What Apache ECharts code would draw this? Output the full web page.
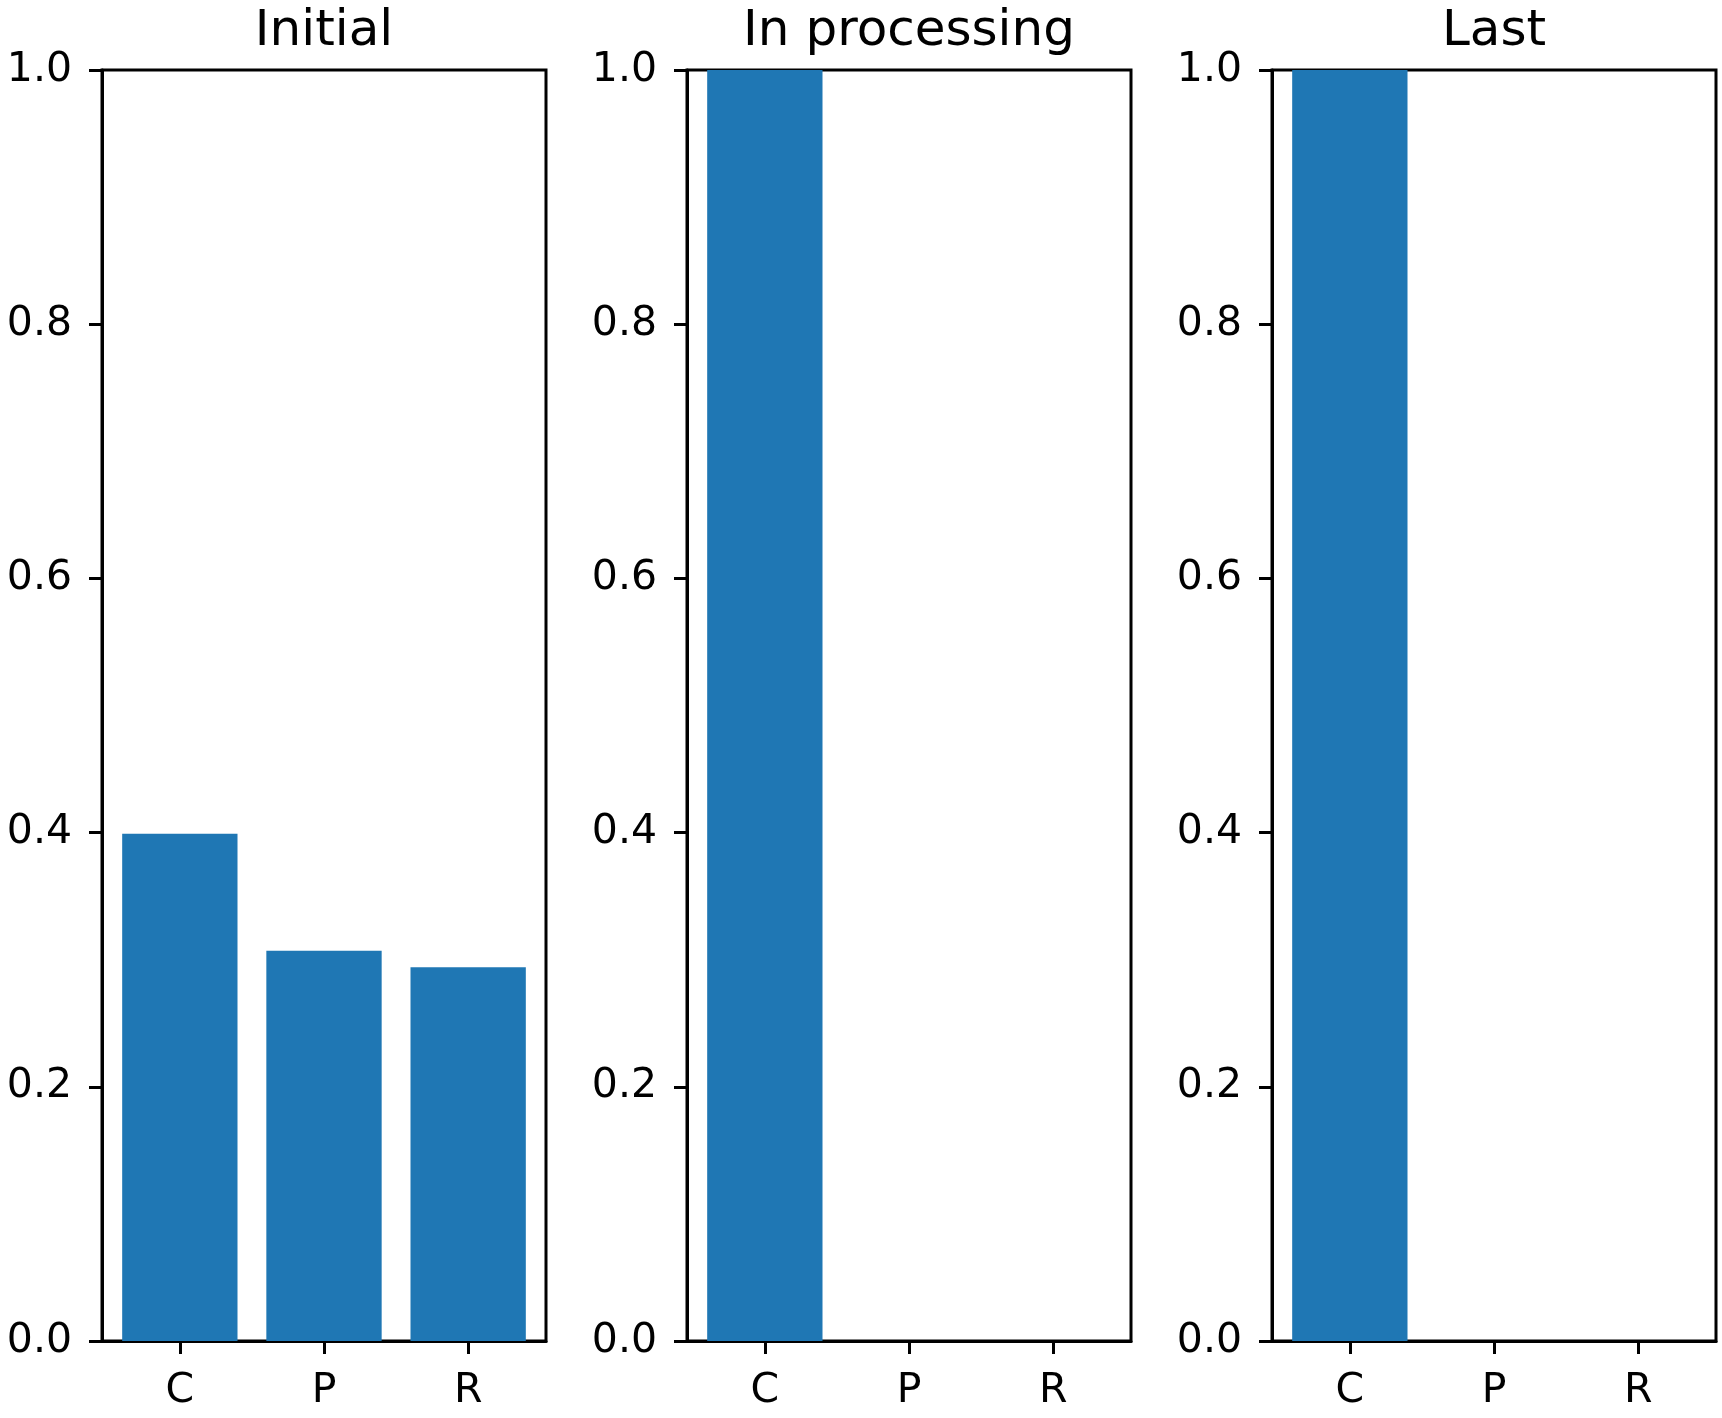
<!DOCTYPE html>
<html>
<head>
<meta charset="utf-8">
<script src="https://cdn.jsdelivr.net/npm/echarts@6/dist/echarts.min.js"></script>
<style>
html,body{margin:0;padding:0;background:#fff;}
#chart{width:1722px;height:1418px;}
</style>
</head>
<body>
<div id="chart"></div>
<script>
const categories = ['C', 'P', 'R'];
const panelTitles = ['Initial', 'In processing', 'Last'];
const initialValues = [0.399, 0.307, 0.294];
const processingValues = [1.0, 0.0, 0.0];
const lastValues = [1.0, 0.0, 0.0];
const yTicks = [0.0, 0.2, 0.4, 0.6, 0.8, 1.0];

const panelValues = [initialValues, processingValues, lastValues];
const gridLefts = [102, 687, 1272];
const gridWidth = 444;
const gridTop = 70;
const gridBottomY = 1341;
const fontFamily = 'DejaVu Sans';
const lw = 3;

const chart = echarts.init(document.getElementById('chart'), null, {renderer: 'canvas'});

const grids = [], xAxes = [], yAxes = [], series = [], titles = [];
panelValues.forEach((vals, i) => {
  grids.push({
    left: gridLefts[i], top: gridTop, width: gridWidth, height: gridBottomY - gridTop,
    show: true, borderColor: '#000', borderWidth: lw, backgroundColor: 'transparent', containLabel: false
  });
  xAxes.push({
    type: 'value', gridIndex: i, min: -0.54, max: categories.length - 1 + 0.54,
    splitLine: {show: false},
    axisLine: {show: true, onZero: false, lineStyle: {color: '#000', width: lw}},
    axisTick: {show: true, length: 13, lineStyle: {color: '#000', width: lw}, customValues: categories.map((c, k) => k)},
    axisLabel: {
      show: true, margin: 30, fontSize: 41, color: '#000', fontFamily: fontFamily,
      customValues: categories.map((c, k) => k),
      formatter: v => categories[Math.round(v)] || ''
    }
  });
  yAxes.push({
    type: 'value', gridIndex: i, min: 0, max: 1, interval: 0.2,
    splitLine: {show: false},
    axisLine: {show: true, onZero: false, lineStyle: {color: '#000', width: lw}},
    axisTick: {show: true, length: 13, lineStyle: {color: '#000', width: lw}},
    axisLabel: {
      show: true, margin: 30, fontSize: 41, color: '#000', fontFamily: fontFamily,
      formatter: v => v.toFixed(1)
    }
  });
  series.push({
    type: 'bar', xAxisIndex: i, yAxisIndex: i,
    data: vals.map((v, k) => [k, v]),
    barWidth: '80%',
    itemStyle: {color: '#1f77b4'},
    silent: true
  });
  titles.push({
    text: panelTitles[i],
    left: gridLefts[i] + gridWidth / 2,
    top: 7,
    padding: 0,
    textAlign: 'center',
    textStyle: {fontSize: 50, fontWeight: 'normal', color: '#000', fontFamily: fontFamily}
  });
});

chart.setOption({
  animation: false,
  backgroundColor: '#fff',
  title: titles,
  grid: grids,
  xAxis: xAxes,
  yAxis: yAxes,
  series: series
});
</script>
</body>
</html>
